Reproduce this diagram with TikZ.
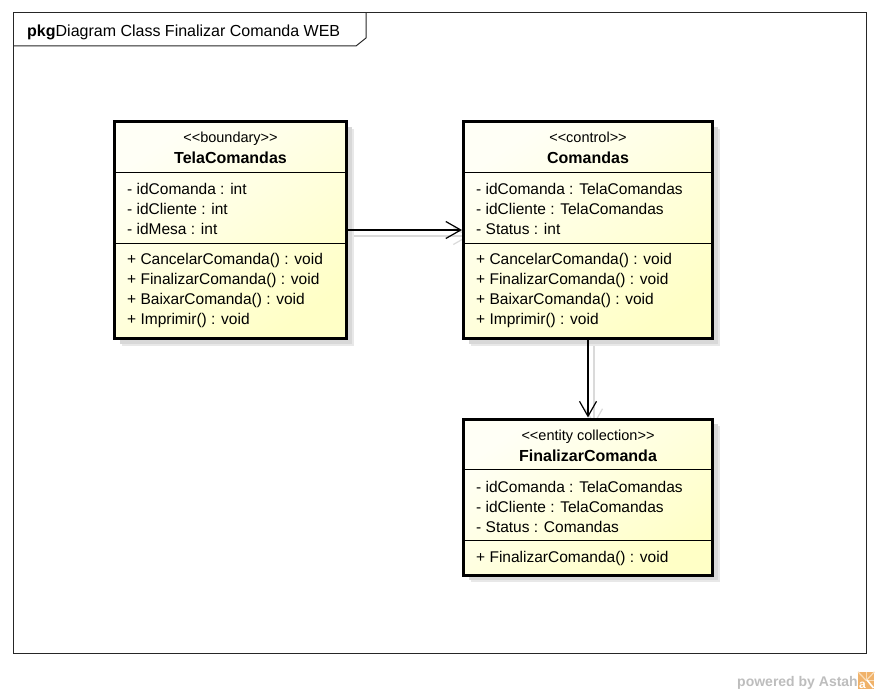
\documentclass[tikz,border=0pt]{standalone}
\usepackage{fontspec}
\setmainfont{Liberation Sans}
\usetikzlibrary{arrows.meta,shadows}

\definecolor{boxlight}{HTML}{FFFFF6}
\definecolor{boxyellow}{HTML}{FFFFC6}
\definecolor{shadowlight}{HTML}{E8E8E8}
\definecolor{shadowdark}{HTML}{D8D8D8}
\definecolor{connshadowcol}{HTML}{DADADA}
\definecolor{footergray}{HTML}{BDBDBD}
\definecolor{astahorange}{HTML}{F0B26A}
\definecolor{astahray}{HTML}{F9DDB8}

\begin{document}
\begin{tikzpicture}[x=1pt,y=-1pt,
  frame/.style={draw=black!85, line width=1pt},
  classbox/.style={rectangle, draw=black, line width=3pt, inner sep=0pt,
    shade, top color=boxlight, bottom color=boxyellow, shading angle=35,
    drop shadow={shadow xshift=7pt, shadow yshift=-7pt, fill=shadowlight, opacity=1},
    drop shadow={shadow xshift=5pt, shadow yshift=-5pt, fill=shadowdark, opacity=1}},
  stereo/.style={anchor=base, inner sep=0pt, font=\fontsize{14.5}{16}\selectfont},
  cname/.style={anchor=base, inner sep=0pt, font=\bfseries\fontsize{16}{18}\selectfont},
  member/.style={anchor=base west, inner sep=0pt, font=\fontsize{15.5}{18}\selectfont},
  sepline/.style={draw=black, line width=1pt},
  assoc/.style={draw=black, line width=1.2pt,
    -{Straight Barb[length=15pt, width=17pt, line width=1.2pt]}},
  assocshadow/.style={draw=connshadowcol, line width=1.2pt,
    -{Straight Barb[length=15pt, width=17pt, line width=1.2pt]}}
]
\useasboundingbox (0,0) rectangle (880,693);

% package frame with its name tab
\draw[frame] (13,13) rectangle (866,653);
\draw[frame] (13,46) -- (356,46) -- (366,38) -- (366,13);
\node[anchor=base west, inner sep=0pt, font=\fontsize{16}{18}\selectfont] (title)
  at (27,36.5) {\textbf{pkg}Diagram Class Finalizar Comanda WEB};

% shadows of the associations
\draw[assocshadow] (236.5,236) -- (469.5,236);
\draw[assocshadow] (594,346) -- (594,425);

% class boxes
\node[classbox, minimum width=232pt, minimum height=217pt] (tela) at (230.5,230) {};
\node[classbox, minimum width=249pt, minimum height=217pt] (cmd)  at (588,230) {};
\node[classbox, minimum width=249pt, minimum height=156pt] (fin)  at (588,497) {};

% TelaComandas
\node[stereo] (telaSt) at (230.5,142.5) {<{}<boundary>{}>};
\node[cname]  (telaNm) at (230.5,163.5) {TelaComandas};
\draw[sepline] (116,172) -- (345,172);
\node[member] (telaA1) at (127,194.5) {- idComanda : int};
\node[member] (telaA2) at (127,214.5) {- idCliente : int};
\node[member] (telaA3) at (127,234.5) {- idMesa : int};
\draw[sepline] (116,243) -- (345,243);
\node[member] (telaO1) at (127,264.5) {+ CancelarComanda() : void};
\node[member] (telaO2) at (127,284.5) {+ FinalizarComanda() : void};
\node[member] (telaO3) at (127,304.5) {+ BaixarComanda() : void};
\node[member] (telaO4) at (127,324.5) {+ Imprimir() : void};

% Comandas
\node[stereo] (cmdSt) at (588,142.5) {<{}<control>{}>};
\node[cname]  (cmdNm) at (588,163.5) {Comandas};
\draw[sepline] (465,172) -- (711,172);
\node[member] (cmdA1) at (476,194.5) {- idComanda : TelaComandas};
\node[member] (cmdA2) at (476,214.5) {- idCliente : TelaComandas};
\node[member] (cmdA3) at (476,234.5) {- Status : int};
\draw[sepline] (465,243) -- (711,243);
\node[member] (cmdO1) at (476,264.5) {+ CancelarComanda() : void};
\node[member] (cmdO2) at (476,284.5) {+ FinalizarComanda() : void};
\node[member] (cmdO3) at (476,304.5) {+ BaixarComanda() : void};
\node[member] (cmdO4) at (476,324.5) {+ Imprimir() : void};

% FinalizarComanda
\node[stereo] (finSt) at (588,440) {<{}<entity collection>{}>};
\node[cname]  (finNm) at (588,461) {FinalizarComanda};
\draw[sepline] (465,469) -- (711,469);
\node[member] (finA1) at (476,492) {- idComanda : TelaComandas};
\node[member] (finA2) at (476,512) {- idCliente : TelaComandas};
\node[member] (finA3) at (476,532) {- Status : Comandas};
\draw[sepline] (465,540) -- (711,540);
\node[member] (finO1) at (476,562) {+ FinalizarComanda() : void};

% associations
\draw[assoc] (tela) -- (cmd);
\draw[assoc] (cmd) -- (fin);

% footer
\node[anchor=base east, inner sep=0pt, text=footergray,
  font=\bfseries\fontsize{14}{16}\selectfont] (powered) at (858,686) {powered by Astah};
\node[anchor=west, fill=astahorange, minimum width=16pt, minimum height=17pt,
  inner sep=0pt] (logo) at (858,680.5) {};
\begin{scope}[astahray, line width=1.2pt]
  \draw (logo.center) -- (logo.north);
  \draw (logo.center) -- (logo.north east);
  \draw (logo.center) -- (logo.north west);
  \draw (logo.center) -- (logo.east);
\end{scope}
\node[anchor=base west, inner sep=0pt, text=white,
  font=\bfseries\fontsize{12}{12}\selectfont] (logoA) at (859,688) {a};
\draw[white, line width=1.6pt] (867,680) -- (873.5,688);
\end{tikzpicture}
\end{document}
